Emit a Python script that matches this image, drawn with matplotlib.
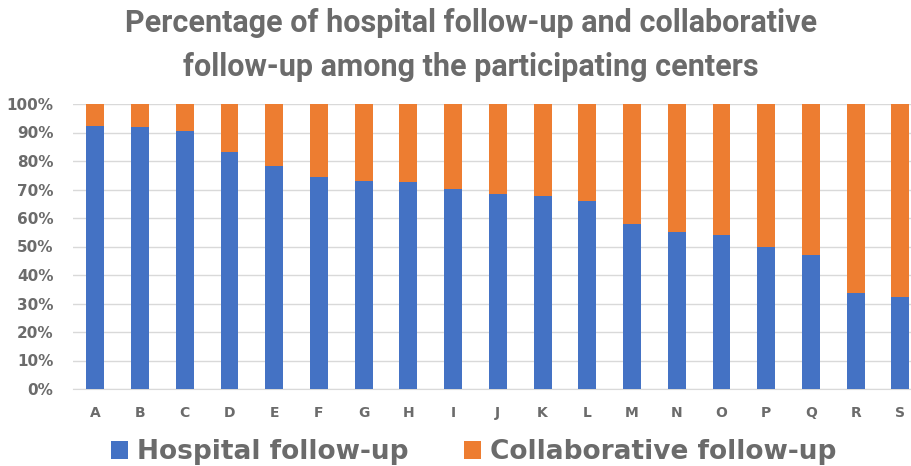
import matplotlib
matplotlib.use("Agg")
import matplotlib.pyplot as plt
from matplotlib.ticker import PercentFormatter, FixedLocator

centers = list("ABCDEFGHIJKLMNOPQRS")
hospital = [92.3, 91.9, 90.4, 83.3, 78.4, 74.3, 73.0, 72.5, 70.2, 68.4, 67.7, 65.8,
            58.0, 55.1, 54.2, 49.8, 47.0, 33.7, 32.3]
collaborative = [100 - h for h in hospital]

title = "Percentage of hospital follow-up and collaborative\nfollow-up among the participating centers"
series_names = ["Hospital follow-up", "Collaborative follow-up"]

BLUE = "#4472C4"
ORANGE = "#ED7D31"
GRAY = "#6b6b6b"

fig = plt.figure(figsize=(9.12, 4.66), dpi=100)
ax = fig.add_axes([73/912, 1 - 389/466, 1 - 73/912, (389 - 104)/466])

x = range(len(centers))
b1 = ax.bar(x, hospital, width=0.4, color=BLUE, label=series_names[0], zorder=3)
b2 = ax.bar(x, collaborative, width=0.4, bottom=hospital, color=ORANGE,
            label=series_names[1], zorder=3)

ax.set_ylim(0, 100)
ax.set_xlim(-0.5, 18.26)
ax.yaxis.set_major_locator(FixedLocator(range(0, 101, 10)))
ax.yaxis.set_major_formatter(PercentFormatter(decimals=0))
ax.grid(axis="y", color="#d9d9d9", linewidth=1, zorder=0)
for s in ["top", "right", "left"]:
    ax.spines[s].set_visible(False)
ax.spines["bottom"].set_color("#d9d9d9")
ax.tick_params(axis="both", length=0)
ax.tick_params(axis="y", pad=14)
ax.tick_params(axis="x", pad=12)
ax.set_xticks(list(x))
ax.set_xticklabels(centers, fontfamily="DejaVu Sans", fontweight="bold",
                   fontsize=10, color=GRAY)
for lab in ax.get_yticklabels():
    lab.set_fontweight("bold")
    lab.set_fontsize(11)
    lab.set_color(GRAY)
    lab.set_fontfamily("DejaVu Sans")

fig.text(471/912, 1 - 45/466, title, ha="center", va="center", fontsize=22,
         fontweight="bold", color=GRAY, fontfamily="Roboto", linespacing=1.55)

leg = fig.legend(handles=[b1, b2], labels=series_names, loc="center",
                 bbox_to_anchor=(474/912, 1 - 452/466), ncol=2, frameon=False,
                 prop={"family": "DejaVu Sans", "weight": "bold", "size": 19},
                 labelcolor=GRAY, handlelength=0.65, handleheight=0.65,
                 handletextpad=0.34, columnspacing=2.1, borderpad=0,
                 borderaxespad=0)

fig.savefig("out.png", dpi=100)
